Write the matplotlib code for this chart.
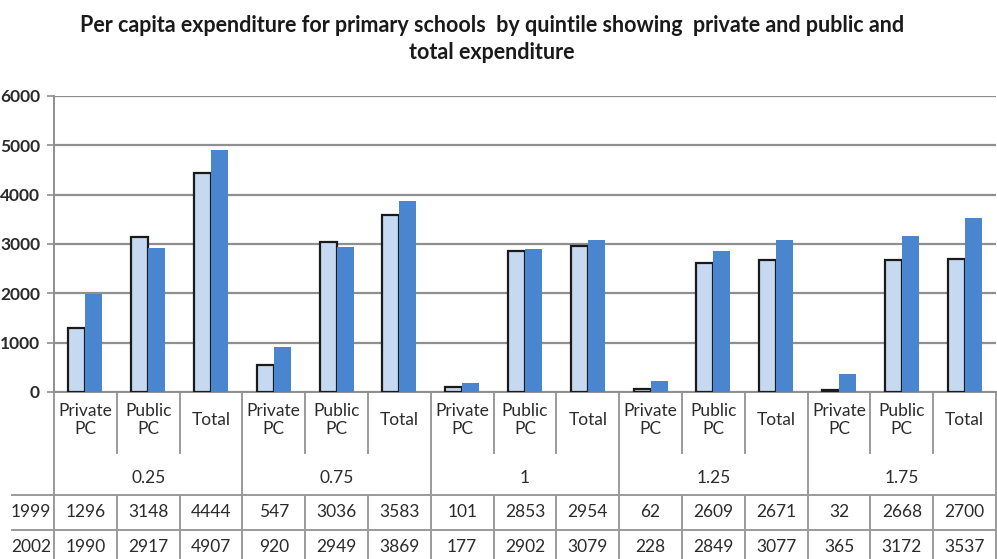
import matplotlib
matplotlib.use("Agg")
import matplotlib.pyplot as plt
from matplotlib.lines import Line2D

# ---- data ----
groups = ["0.25", "0.75", "1", "1.25", "1.75"]
measures = ["Private\nPC", "Public\nPC", "Total"]
years = ["1999", "2002"]
values_1999 = [1296, 3148, 4444, 547, 3036, 3583, 101, 2853, 2954, 62, 2609, 2671, 32, 2668, 2700]
values_2002 = [1990, 2917, 4907, 920, 2949, 3869, 177, 2902, 3079, 228, 2849, 3077, 365, 3172, 3537]
y_ticks = [0, 1000, 2000, 3000, 4000, 5000, 6000]

title = ("Per capita expenditure for primary schools  by quintile showing  private and public and\n"
         "total expenditure")

LIGHT = "#C6D9F0"
DARK = "#4A86D0"
GRID = "#8f8f8f"
TABLE_LINE = "#9a9a9a"
TEXT = "#2b2b2b"
FONT = ["Lato", "DejaVu Sans"]
FS = 12.5

W, H = 997, 559
fig = plt.figure(figsize=(W / 100, H / 100), dpi=100)

# plot area in pixel terms
x0, x1 = 54, 996
y_top, y_bot = 96, 392
ax = fig.add_axes([x0 / W, 1 - y_bot / H, (x1 - x0) / W, (y_bot - y_top) / H])

n = len(values_1999)
centers = [i + 0.5 for i in range(n)]
bw = 0.27

ax.bar([c - bw / 2 for c in centers], values_1999, width=bw, color=LIGHT,
       edgecolor="#1a1a1a", linewidth=1.6, zorder=3)
ax.bar([c + bw / 2 for c in centers], values_2002, width=bw, color=DARK,
       edgecolor="none", zorder=4)

ax.set_xlim(0, n)
ax.set_ylim(0, 6000)
ax.set_yticks(y_ticks)
ax.set_yticklabels([str(v) for v in y_ticks], fontsize=12.5, family=FONT,
                   color=TEXT, fontweight="bold")
ax.set_xticks([])
ax.tick_params(axis="y", length=5, width=1.2, color=GRID, pad=5)
ax.yaxis.grid(True, color=GRID, linewidth=1.6, zorder=0)
ax.set_axisbelow(True)
for s in ["top", "right"]:
    ax.spines[s].set_visible(False)
ax.spines["left"].set_color(GRID)
ax.spines["left"].set_linewidth(1.4)
ax.spines["bottom"].set_color(GRID)
ax.spines["bottom"].set_linewidth(1.4)

# ---- data table under the axis ----
def ay(ypx):
    return (y_bot - ypx) / (y_bot - y_top)

xt = ax.get_xaxis_transform()

def vline(x, ya, yb):
    ax.add_line(Line2D([x, x], [ay(ya), ay(yb)], transform=xt, color=TABLE_LINE,
                       linewidth=1.4, clip_on=False))

# category labels and separators
for i, c in enumerate(centers):
    ax.text(c, ay(420), measures[i % 3], transform=xt, ha="center", va="center",
            fontsize=FS, family=FONT, color=TEXT, linespacing=1.1, clip_on=False)
for k in range(n + 1):
    if k % 3 == 0:
        vline(k, y_bot, 600)
    else:
        vline(k, y_bot, 453)
        vline(k, 495, 600)

# group labels
for g, name in enumerate(groups):
    ax.text(3 * g + 1.5, ay(478), name, transform=xt, ha="center", va="center",
            fontsize=FS, family=FONT, color=TEXT, clip_on=False)

# horizontal table rules, spanning from the row-label column to the right edge
for ypx in (495, 530):
    yf = 1 - ypx / H
    fig.add_artist(Line2D([12 / W, 1.0], [yf, yf], color=TABLE_LINE, linewidth=1.4))

# value rows
for row, (yr, vals) in enumerate(zip(years, [values_1999, values_2002])):
    ypx = 512 + row * 35
    fig.text(51 / W, 1 - ypx / H, yr, ha="right", va="center", fontsize=FS,
             family=FONT, color=TEXT)
    for c, v in zip(centers, vals):
        ax.text(c, ay(ypx), str(v), transform=xt, ha="center", va="center",
                fontsize=FS, family=FONT, color=TEXT, clip_on=False)

fig.text(492 / W, 1 - 39 / H, title, ha="center", va="center", fontsize=15.5,
         fontweight="bold", family=FONT, color="#1a1a1a", linespacing=1.4)

fig.savefig("out.png", dpi=100)
